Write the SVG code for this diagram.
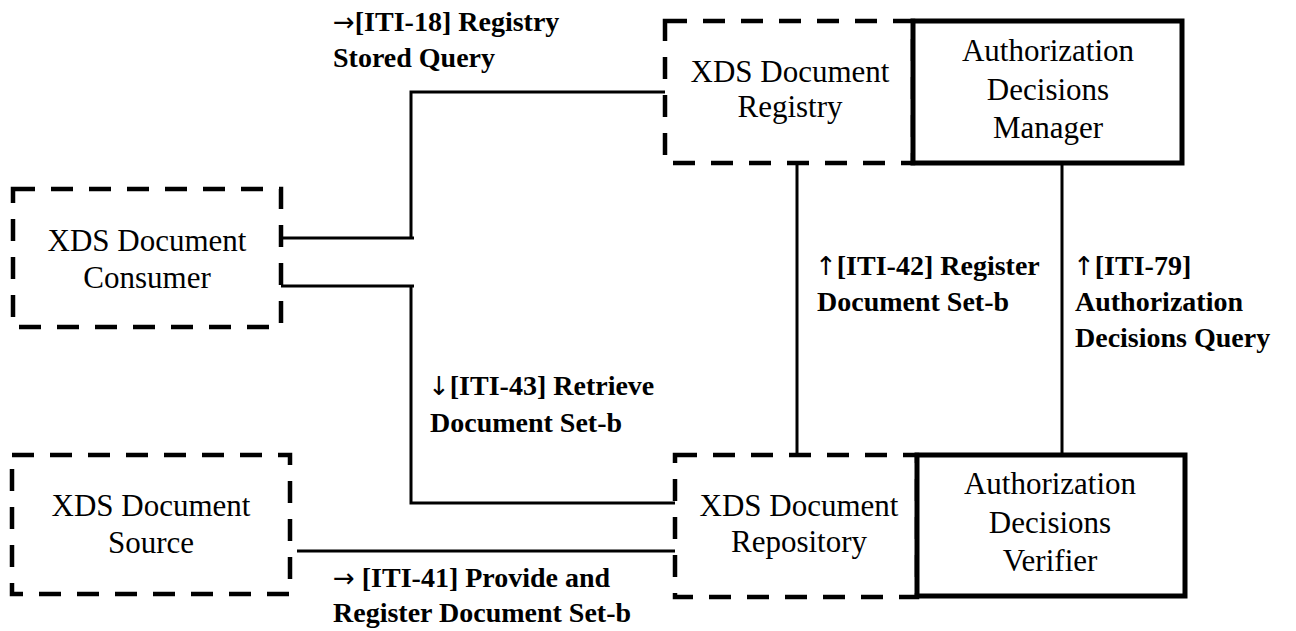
<svg xmlns="http://www.w3.org/2000/svg" width="1296" height="631" viewBox="0 0 1296 631">
<style>
.dash{fill:none;stroke:#000;stroke-width:4.5;stroke-dasharray:22 16}
.solid{fill:#fff;stroke:#000;stroke-width:5}
.conn{fill:none;stroke:#000;stroke-width:3}
.nt{font-family:"Liberation Serif","Times New Roman",serif;font-size:31px;fill:#000;text-anchor:middle}
.lt{font-family:"Liberation Serif","Times New Roman","DejaVu Serif",serif;font-size:28px;font-weight:bold;fill:#000}
.ar{font-family:"DejaVu Sans",sans-serif;font-weight:normal;font-size:26px}
</style>
<rect width="1296" height="631" fill="#fff"/>
<g id="connectors">
<path class="conn" d="M281,238 H414 M411,239.5 V92 H665"/>
<path class="conn" d="M281,286 H414 M411,284.5 V503 H675"/>
<path class="conn" d="M297,551 H675"/>
<path class="conn" d="M797,163 V455"/>
<path class="conn" d="M1062,163 V455"/>
</g>
<g id="consumer">
<rect class="dash" x="13" y="189" width="268" height="138"/>
<text class="nt" x="147" y="251">XDS Document</text>
<text class="nt" x="147" y="288">Consumer</text>
</g>
<g id="source">
<rect class="dash" x="12" y="455" width="278" height="139"/>
<text class="nt" x="151" y="516">XDS Document</text>
<text class="nt" x="151" y="553">Source</text>
</g>
<g id="registry">
<rect class="dash" x="665" y="21" width="248" height="142"/>
<text class="nt" x="790" y="82">XDS Document</text>
<text class="nt" x="790" y="117">Registry</text>
</g>
<g id="manager">
<rect class="solid" x="913" y="21" width="269" height="142"/>
<text class="nt" x="1048" y="61">Authorization</text>
<text class="nt" x="1048" y="100">Decisions</text>
<text class="nt" x="1048" y="138">Manager</text>
</g>
<g id="repository">
<rect class="dash" x="675" y="455" width="242" height="142"/>
<text class="nt" x="799" y="516">XDS Document</text>
<text class="nt" x="799" y="552">Repository</text>
</g>
<g id="verifier">
<rect class="solid" x="917" y="455" width="268" height="141"/>
<text class="nt" x="1050" y="494">Authorization</text>
<text class="nt" x="1050" y="533">Decisions</text>
<text class="nt" x="1050" y="571">Verifier</text>
</g>
<g id="labels">
<text class="lt" x="333" y="31"><tspan class="ar">→</tspan>[ITI-18] Registry</text>
<text class="lt" x="333" y="67">Stored Query</text>
<text class="lt" x="428" y="395"><tspan class="ar">↓</tspan>[ITI-43] Retrieve</text>
<text class="lt" x="430" y="432">Document Set-b</text>
<text class="lt" x="333" y="587"><tspan class="ar">→</tspan> [ITI-41] Provide and</text>
<text class="lt" x="333" y="622">Register Document Set-b</text>
<text class="lt" x="815" y="275"><tspan class="ar">↑</tspan>[ITI-42] Register</text>
<text class="lt" x="817" y="311">Document Set-b</text>
<text class="lt" x="1073" y="275"><tspan class="ar">↑</tspan>[ITI-79]</text>
<text class="lt" x="1075" y="311">Authorization</text>
<text class="lt" x="1075" y="347">Decisions Query</text>
</g>
</svg>
